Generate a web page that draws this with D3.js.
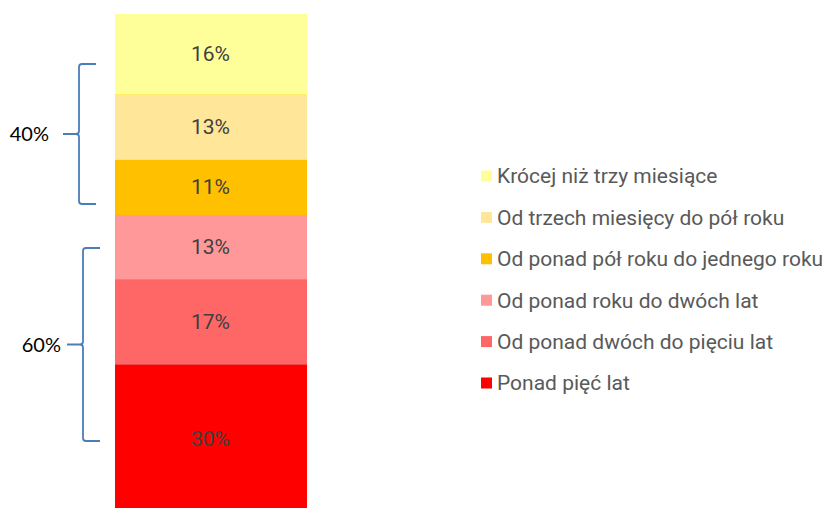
<!DOCTYPE html>
<html><head><meta charset="utf-8">
<script src="https://cdn.jsdelivr.net/npm/d3@7"></script>
<style>html,body{margin:0;padding:0;background:#fff;}svg{display:block;}</style>
</head><body>
<svg id="c" width="830" height="508"></svg>
<script>
// Data (bottom to top)
const categories = ["Ponad pięć lat","Od ponad dwóch do pięciu lat","Od ponad roku do dwóch lat","Od ponad pół roku do jednego roku","Od trzech miesięcy do pół roku","Krócej niż trzy miesiące"];
const values = [30, 17, 13, 11, 13, 16];
const colors = ["#FF0000","#FF6666","#FF9999","#FFC000","#FFE699","#FFFF99"];
const strokeColors = ["#FF0000","#F04848","#F08080","#FFC000","#FFE08A","#FFEE66"];
const groupLabels = ["60%", "40%"];
const groupFrom = [14.6, 62];   // brace extent (value units)
const groupTo = [53.2, 90];

const svg = d3.select("#c");
const y = d3.scaleLinear().domain([0, 100]).range([514, 14]);
const x = d3.scaleBand().domain(["all"]).range([115, 307]).padding(0);

let cum = 0;
const segs = values.map((v, i) => { const s = {i, v, y0: cum, y1: cum + v}; cum += v; return s; });

svg.append("g").selectAll("rect").data(segs).join("rect")
  .attr("x", x("all")).attr("width", x.bandwidth())
  .attr("y", d => y(d.y1)).attr("height", d => y(d.y0) - y(d.y1))
  .attr("fill", d => colors[d.i]);

// thin separators
svg.append("g").selectAll("line").data(segs.slice(0, -1)).join("line")
  .attr("x1", x("all")).attr("x2", x("all") + x.bandwidth())
  .attr("y1", d => y(d.y1) + 0.5).attr("y2", d => y(d.y1) + 0.5)
  .attr("stroke", d => strokeColors[d.i + 1]).attr("stroke-width", 1);

svg.append("g").selectAll("text").data(segs).join("text")
  .attr("x", x("all") + x.bandwidth() / 2 - 0.5)
  .attr("y", d => y((d.y0 + d.y1) / 2))
  .attr("dy", "0.35em").attr("text-anchor", "middle")
  .attr("font-family", "Roboto, sans-serif").attr("font-size", 21)
  .attr("fill", "#404040")
  .text(d => d.v + "%");

// braces
const bx = [83, 79];
const labelEnd = [61, 49];
groupLabels.forEach((lab, k) => {
  const top = y(groupTo[k]), bot = y(groupFrom[k]), mid = (top + bot) / 2;
  const vx = bx[k], r = 3;
  const p = `M${vx + 17},${top} L${vx + r},${top} Q${vx},${top} ${vx},${top + r} L${vx},${mid - 3} Q${vx},${mid} ${vx - 3},${mid} L${vx - 16},${mid} M${vx - 3},${mid} Q${vx},${mid} ${vx},${mid + 3} L${vx},${bot - r} Q${vx},${bot} ${vx + r},${bot} L${vx + 17},${bot}`;
  svg.append("path").attr("d", p).attr("fill", "none").attr("stroke", "#4A7EBB").attr("stroke-width", 1.8);
  svg.append("text").attr("x", labelEnd[k]).attr("y", mid).attr("dy", "0.35em")
    .attr("text-anchor", "end").attr("font-family", "Lato, 'Open Sans', sans-serif")
    .attr("font-size", 20).attr("fill", "#000").text(lab);
});

// legend (top to bottom)
const legendOrder = d3.range(categories.length).reverse();
const lg = svg.append("g");
legendOrder.forEach((i, r) => {
  const cy = 176 + r * 41.4;
  lg.append("rect").attr("x", 481).attr("y", cy - 5.5).attr("width", 11).attr("height", 11).attr("fill", colors[i]);
  lg.append("text").attr("x", 497).attr("y", cy).attr("dy", "0.35em")
    .attr("font-family", "Roboto, sans-serif").attr("font-size", 21).attr("fill", "#595959")
    .text(categories[i]);
});
</script>
</body></html>
